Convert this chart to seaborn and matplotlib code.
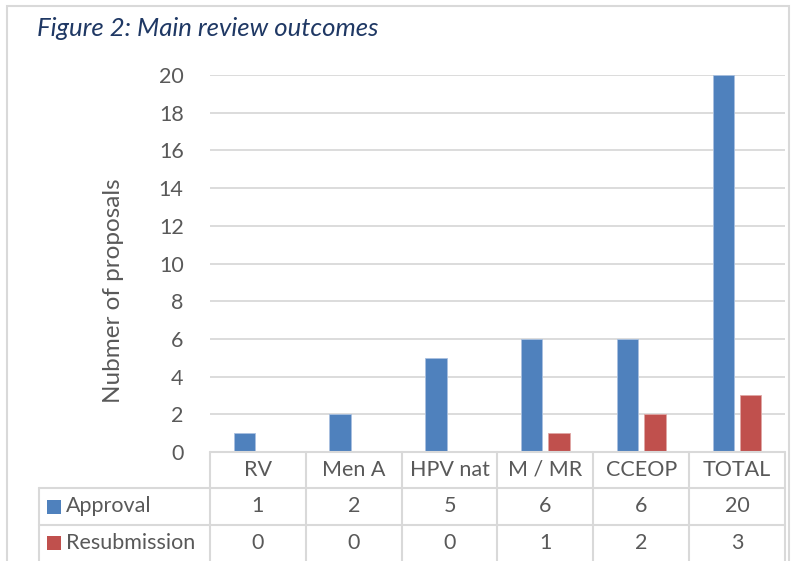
import pandas as pd
import seaborn as sns
import matplotlib.pyplot as plt
import matplotlib.transforms as mtransforms
from matplotlib.lines import Line2D
from matplotlib.patches import Rectangle

# data
categories = ["RV", "Men A", "HPV nat", "M / MR", "CCEOP", "TOTAL"]
approval = [1, 2, 5, 6, 6, 20]
resubmission = [0, 0, 0, 1, 2, 3]
series_names = ["Approval", "Resubmission"]
series_colors = ["#4F81BD", "#C0504D"]
y_ticks = list(range(0, 21, 2))

df = pd.DataFrame({
    "category": categories * 2,
    "outcome": [series_names[0]] * len(categories) + [series_names[1]] * len(categories),
    "count": approval + resubmission,
})

sns.set_style("white")
plt.rcParams['font.family'] = ['Lato', 'DejaVu Sans']
text_color = "#595959"
line_color = "#D9D9D9"
fs = 15.5

W, H = 793, 561
fig = plt.figure(figsize=(W / 100, H / 100), dpi=100)

# outer chart border
fig.add_artist(Rectangle((7 / W, -0.05), (789 - 7) / W, 1.05 - 6 / H,
                         transform=fig.transFigure, fill=False,
                         edgecolor="#D9D9D9", lw=1.5))

ax = fig.add_axes([210 / W, (H - 452) / H, 575 / W, 377 / H])
sns.barplot(data=df, x="category", y="count", hue="outcome",
            palette=series_colors, saturation=1, width=0.57, gap=0.22,
            legend=False, ax=ax, edgecolor="#A9C0E0", linewidth=0.6)
# red bars get a lighter red outline
for p in ax.patches[len(categories):]:
    p.set_edgecolor("#E0A6A4")

ax.set_xlim(-0.5, len(categories) - 0.5)
ax.set_ylim(0, 20)
ax.set_yticks(y_ticks)
ax.set_yticklabels([str(t) for t in y_ticks], color=text_color, fontsize=fs)
ax.set_xticks([])
ax.set_xlabel("")
ax.set_ylabel("")
ax.tick_params(axis="y", length=0, pad=19)
ax.yaxis.grid(True, color=line_color, lw=1.3)
ax.set_axisbelow(True)
for s in ax.spines.values():
    s.set_visible(False)

fig.text(113 / W, 1 - 291 / H, "Nubmer of proposals", rotation=90, fontsize=17.5,
         color=text_color, ha="center", va="center")
fig.text(37 / W, 1 - 28 / H, "Figure 2: Main review outcomes", fontsize=18.5,
         style="italic", color="#1F3864", va="center", ha="left")

# data table under the plot
def fy(py):
    return 1 - py / H

rows_y = [452, 488, 525, 561]
mix = mtransforms.blended_transform_factory(ax.transData, fig.transFigure)
n = len(categories)

# horizontal lines
fig.add_artist(Line2D([-0.5, n - 0.5], [fy(452)] * 2, transform=mix, color=line_color, lw=1.5))
for py in rows_y[1:3]:
    fig.add_artist(Line2D([39 / W, 210 / W], [fy(py)] * 2, transform=fig.transFigure, color=line_color, lw=1.5))
    fig.add_artist(Line2D([-0.5, n - 0.5], [fy(py)] * 2, transform=mix, color=line_color, lw=1.5))
# vertical lines
for k in range(n + 1):
    fig.add_artist(Line2D([k - 0.5] * 2, [fy(452), fy(575)], transform=mix, color=line_color, lw=1.5))
fig.add_artist(Line2D([39 / W] * 2, [fy(488), fy(575)], transform=fig.transFigure, color=line_color, lw=1.5))

# header labels
for i, c in enumerate(categories):
    fig.text(i, fy(470), c, transform=mix, ha="center", va="center", color=text_color, fontsize=fs)

# series rows
for r, (name, col, vals) in enumerate(zip(series_names, series_colors, [approval, resubmission])):
    yc = (rows_y[r + 1] + rows_y[r + 2]) / 2
    fig.add_artist(Rectangle((47 / W, fy(yc + 7)), 14 / W, 14 / H, transform=fig.transFigure,
                             facecolor=col, edgecolor="none"))
    fig.text(66 / W, fy(yc), name, ha="left", va="center", color=text_color, fontsize=fs)
    for i, v in enumerate(vals):
        fig.text(i, fy(yc), str(v), transform=mix, ha="center", va="center", color=text_color, fontsize=fs)

fig.savefig("out.png", dpi=100)
